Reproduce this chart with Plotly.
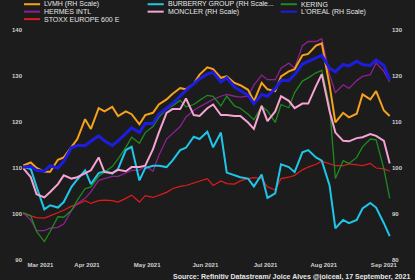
import plotly.graph_objects as go

dates = [
    "2021-03-12", "2021-03-16", "2021-03-19", "2021-03-23", "2021-03-26", "2021-03-30",
    "2021-04-02", "2021-04-06", "2021-04-09", "2021-04-13", "2021-04-16", "2021-04-20", "2021-04-23", "2021-04-27", "2021-04-30",
    "2021-05-04", "2021-05-07", "2021-05-11", "2021-05-14", "2021-05-18", "2021-05-21", "2021-05-25", "2021-05-28",
    "2021-06-01", "2021-06-04", "2021-06-08", "2021-06-11", "2021-06-15", "2021-06-18", "2021-06-22", "2021-06-25", "2021-06-29",
    "2021-07-02", "2021-07-06", "2021-07-09", "2021-07-13", "2021-07-16", "2021-07-20", "2021-07-23", "2021-07-27", "2021-07-30",
    "2021-08-03", "2021-08-06", "2021-08-10", "2021-08-13", "2021-08-17", "2021-08-20", "2021-08-24", "2021-08-27", "2021-08-31",
    "2021-09-03", "2021-09-07", "2021-09-10", "2021-09-14", "2021-09-17",
]

# right-hand scale series
lvmh = [100.5, 101.2, 100.0, 99.2, 99.2, 101.8,
        102.3, 104.5, 106.3, 110.6, 108.5, 113.0, 112.3, 113.3, 111.3,
        112.3, 111.7, 109.5, 111.5, 112.0, 113.8, 114.9, 116.1,
        117.4, 117.1, 118.3, 120.3, 121.9, 121.5, 119.6, 119.9, 118.5,
        118.0, 117.0, 114.5, 118.5, 117.1, 116.7, 119.9, 121.0, 121.5,
        124.5, 124.8, 126.6, 127.1, 118.0, 109.9, 112.0, 111.0, 111.8,
        116.0, 114.9, 116.7, 112.5, 111.3]
burberry = [100.3, 99.8, 95.9, 91.0, 91.9, 91.4,
            92.6, 95.9, 97.5, 99.5, 96.5, 98.9, 99.3, 98.8, 99.8,
            103.9, 104.6, 97.3, 100.0, 100.5, 100.5, 100.2, 101.6,
            103.9, 104.4, 106.8, 106.3, 107.9, 104.5, 107.7, 99.0, 98.4,
            98.0, 97.7, 96.0, 98.6, 93.5, 94.5, 100.8, 100.2, 99.1,
            103.4, 103.9, 102.3, 101.6, 96.2, 86.9, 88.7, 88.0, 88.7,
            91.2, 92.4, 91.4, 88.0, 85.2]
moncler = [100.0, 98.0, 94.3, 93.6, 94.8, 96.5,
           98.4, 97.7, 98.0, 98.8, 99.5, 102.3, 99.1, 98.9, 99.6,
           99.3, 100.2, 100.2, 100.5, 104.1, 107.7, 112.0, 112.8,
           112.8, 115.1, 111.5, 111.3, 113.0, 113.8, 111.5, 111.5, 111.3,
           111.3, 109.9, 108.5, 113.5, 110.2, 112.3, 115.6, 114.6, 113.0,
           114.0, 114.0, 117.8, 120.4, 112.4, 107.7, 105.9, 105.8, 106.5,
           106.7, 107.4, 107.0, 105.9, 101.0]
loreal = [100.2, 100.3, 99.5, 99.3, 100.5, 100.0,
          101.5, 104.4, 104.9, 104.9, 105.8, 107.0, 105.9, 104.9, 105.9,
          107.4, 108.7, 107.7, 109.7, 109.7, 111.7, 113.0, 114.0,
          115.6, 116.9, 118.3, 119.4, 120.4, 120.8, 118.7, 119.6, 117.6,
          116.9, 115.8, 114.0, 116.0, 115.6, 117.3, 119.0, 119.0, 120.3,
          122.6, 123.2, 124.0, 124.5, 121.7, 120.9, 122.5, 122.2, 123.2,
          122.5, 122.3, 123.5, 122.3, 119.2]

# left-hand scale series
hermes = [100.3, 98.7, 96.4, 96.4, 96.9, 97.1,
          97.8, 100.8, 102.3, 103.4, 104.8, 107.3, 107.7, 108.2, 108.2,
          108.9, 109.5, 109.5, 110.5, 109.3, 112.7, 116.3, 117.4,
          119.0, 121.1, 122.5, 123.3, 124.2, 124.9, 125.6, 126.0, 125.6,
          125.4, 125.6, 128.0, 130.2, 129.2, 129.2, 131.7, 132.8, 131.7,
          136.6, 137.5, 137.5, 138.1, 130.3, 126.4, 128.1, 127.3, 129.0,
          129.9, 130.3, 132.8, 131.0, 128.7]
kering = [100.3, 99.6, 96.2, 94.0, 96.2, 99.4,
          99.3, 100.8, 103.0, 105.5, 105.9, 108.2, 109.1, 110.3, 112.0,
          114.5, 116.7, 115.4, 117.7, 119.0, 121.0, 122.8, 123.5,
          124.7, 123.3, 123.8, 124.7, 125.8, 125.6, 123.5, 125.6, 123.5,
          123.0, 121.7, 120.5, 123.5, 122.4, 119.9, 123.8, 123.1, 126.4,
          128.9, 129.6, 130.7, 131.2, 123.5, 107.7, 111.6, 111.0, 112.3,
          114.6, 116.3, 116.1, 109.8, 103.4]
stoxx = [100.1, 99.6, 99.2, 99.1, 99.6, 100.3,
         100.8, 101.7, 102.1, 102.9, 102.3, 102.9, 103.0, 102.9, 102.6,
         103.4, 104.1, 102.6, 104.0, 103.6, 104.1, 104.7, 105.5,
         106.0, 106.2, 106.7, 107.2, 107.7, 106.2, 107.2, 106.6, 106.5,
         107.2, 107.7, 107.9, 107.7, 105.9, 105.2, 107.7, 108.0, 108.4,
         109.6, 110.2, 110.8, 111.5, 111.0, 110.5, 110.5, 110.9, 110.7,
         110.5, 111.0, 110.0, 109.8, 109.3]

x_tickvals = ["2021-03-21", "2021-04-14", "2021-05-15", "2021-06-14",
              "2021-07-15", "2021-08-14", "2021-09-14"]
x_ticktext = ["Mar 2021", "Apr 2021", "May 2021", "Jun 2021",
              "Jul 2021", "Aug 2021", "Sep 2021"]
left_ticks = [90, 100, 110, 120, 130, 140]
right_ticks = [80, 90, 100, 110, 120, 130]

# name, values, axis, color, width, legend column, legend row
series = [
    ("STOXX EUROPE 600 E", stoxx, "y", "#e01b1b", 1.2, 0, 2),
    ("HERMES INTL", hermes, "y", "#8e2090", 1.3, 0, 1),
    ("KERING", kering, "y", "#1f8a1f", 1.3, 2, 0),
    ("BURBERRY GROUP (RH Scale...", burberry, "y2", "#1ec6ea", 2.0, 1, 0),
    ("MONCLER (RH Scale)", moncler, "y2", "#f7a3d4", 2.0, 1, 1),
    ("LVMH (RH Scale)", lvmh, "y2", "#f7a21b", 2.0, 0, 0),
    ("L'OREAL (RH Scale)", loreal, "y2", "#1d1de0", 3.0, 2, 1),
]

W, H = 415, 280
ML, MR, MT, MB = 15, 13, 30, 18
PW, PH = W - ML - MR, H - MT - MB


def px_x(px):
    return (px - ML) / PW


def px_y(py):
    return (H - MB - py) / PH


fig = go.Figure()
shapes = []
annotations = []
leg_line_x = [16, 146, 286]
leg_row_y = [4, 11.5, 19]
for name, vals, ax, color, width, col, row in series:
    fig.add_trace(go.Scatter(x=dates, y=vals, yaxis=ax, mode="lines", name=name,
                             line=dict(color=color, width=width), showlegend=False))
    x0 = leg_line_x[col]
    yy = px_y(leg_row_y[row])
    shapes.append(dict(type="line", xref="paper", yref="paper",
                       x0=px_x(x0), x1=px_x(x0 + 17), y0=yy, y1=yy,
                       line=dict(color=color, width=2)))
    annotations.append(dict(xref="paper", yref="paper", x=px_x(x0 + 19), y=yy,
                            xanchor="left", yanchor="middle", showarrow=False,
                            text=name, font=dict(family="Liberation Sans", size=7, color="#e6e6e6")))

annotations.append(dict(xref="paper", yref="paper", x=px_x(171), y=px_y(279),
                        xanchor="left", yanchor="middle", showarrow=False,
                        text="Source: Refinitiv Datastream/ Joice Alves @joiceal, 17 September, 2021",
                        font=dict(family="Liberation Sans", size=7, color="#e6e6e6", weight="bold")))

tickfont = dict(family="Liberation Sans", size=6, color="#d0d0d0", weight="bold")
fig.update_layout(
    width=W, height=H,
    margin=dict(l=ML, r=MR, t=MT, b=MB),
    paper_bgcolor="#1c1c1c", plot_bgcolor="#1c1c1c",
    shapes=shapes, annotations=annotations,
    xaxis=dict(type="date", range=["2021-03-12", "2021-09-17 16:00"],
               tickvals=x_tickvals, ticktext=x_ticktext, tickfont=tickfont,
               showgrid=False, zeroline=False, showline=False, ticks=""),
    yaxis=dict(range=[90, 140], tickvals=left_ticks, tickfont=tickfont,
               showgrid=False, zeroline=False, showline=False, ticks=""),
    yaxis2=dict(range=[80, 130], tickvals=right_ticks, tickfont=tickfont,
                overlaying="y", side="right",
                showgrid=False, zeroline=False, showline=False, ticks=""),
)

fig.write_html("out.html")
